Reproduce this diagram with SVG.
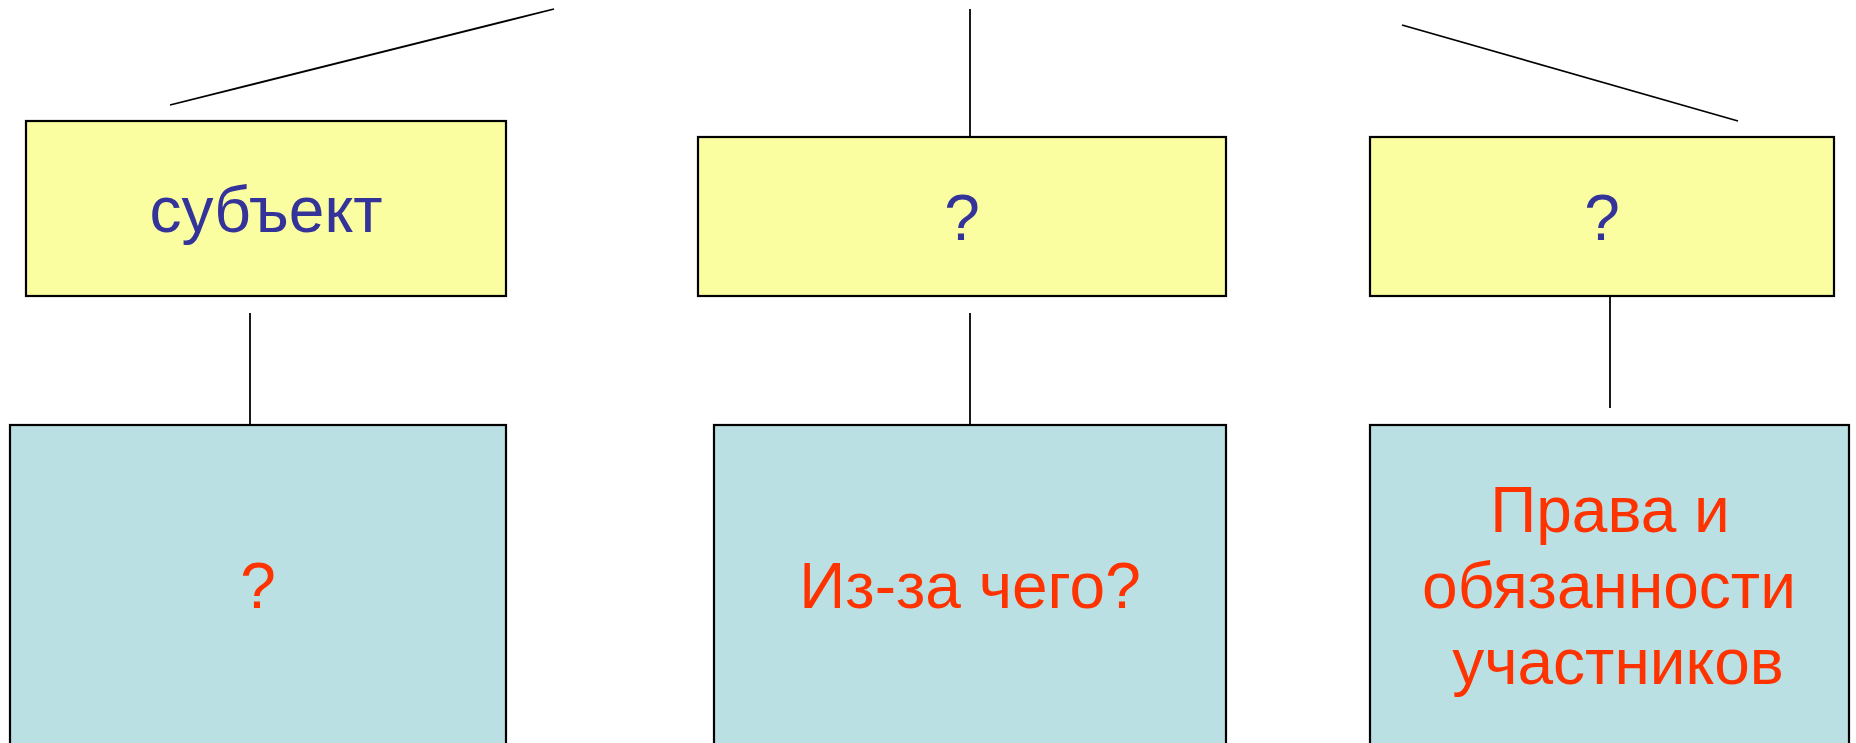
<svg xmlns="http://www.w3.org/2000/svg" width="1856" height="743" viewBox="0 0 1856 743">
<style>
.top{fill:#FAFDA0;stroke:#000;stroke-width:2.2}
.bot{fill:#BBE0E3;stroke:#000;stroke-width:2.2}
.conn line{stroke:#000;stroke-width:1.8}
text{font-family:"Liberation Sans",Arial,sans-serif;font-size:64px;text-anchor:middle}
.tb{fill:#333399}
.tr{fill:#FF3300}
</style>
<rect width="1856" height="743" fill="#fff"/>
<g id="connectors" class="conn">
<line x1="170" y1="105" x2="554" y2="9"/>
<line x1="970" y1="9" x2="970" y2="137"/>
<line x1="1402" y1="25" x2="1738" y2="121"/>
<line x1="250" y1="313" x2="250" y2="424"/>
<line x1="970" y1="313" x2="970" y2="424"/>
<line x1="1610" y1="297" x2="1610" y2="408"/>
</g>
<g id="n-subject">
<rect class="top" x="26" y="121" width="480" height="175"/>
<text class="tb" x="266" y="232">субъект</text>
</g>
<g id="n-q1">
<rect class="top" x="698" y="137" width="528" height="159"/>
<text class="tb" x="962" y="240">?</text>
</g>
<g id="n-q2">
<rect class="top" x="1370" y="137" width="464" height="159"/>
<text class="tb" x="1602" y="240">?</text>
</g>
<g id="n-b1">
<rect class="bot" x="10" y="425" width="496" height="330"/>
<text class="tr" x="258" y="608">?</text>
</g>
<g id="n-b2">
<rect class="bot" x="714" y="425" width="512" height="330"/>
<text class="tr" x="970" y="608">Из-за чего?</text>
</g>
<g id="n-b3">
<rect class="bot" x="1370" y="425" width="479" height="330"/>
<text class="tr"><tspan x="1610" y="532">Права и</tspan><tspan x="1609" y="608">обязанности</tspan><tspan x="1618" y="684">участников</tspan></text>
</g>
</svg>
